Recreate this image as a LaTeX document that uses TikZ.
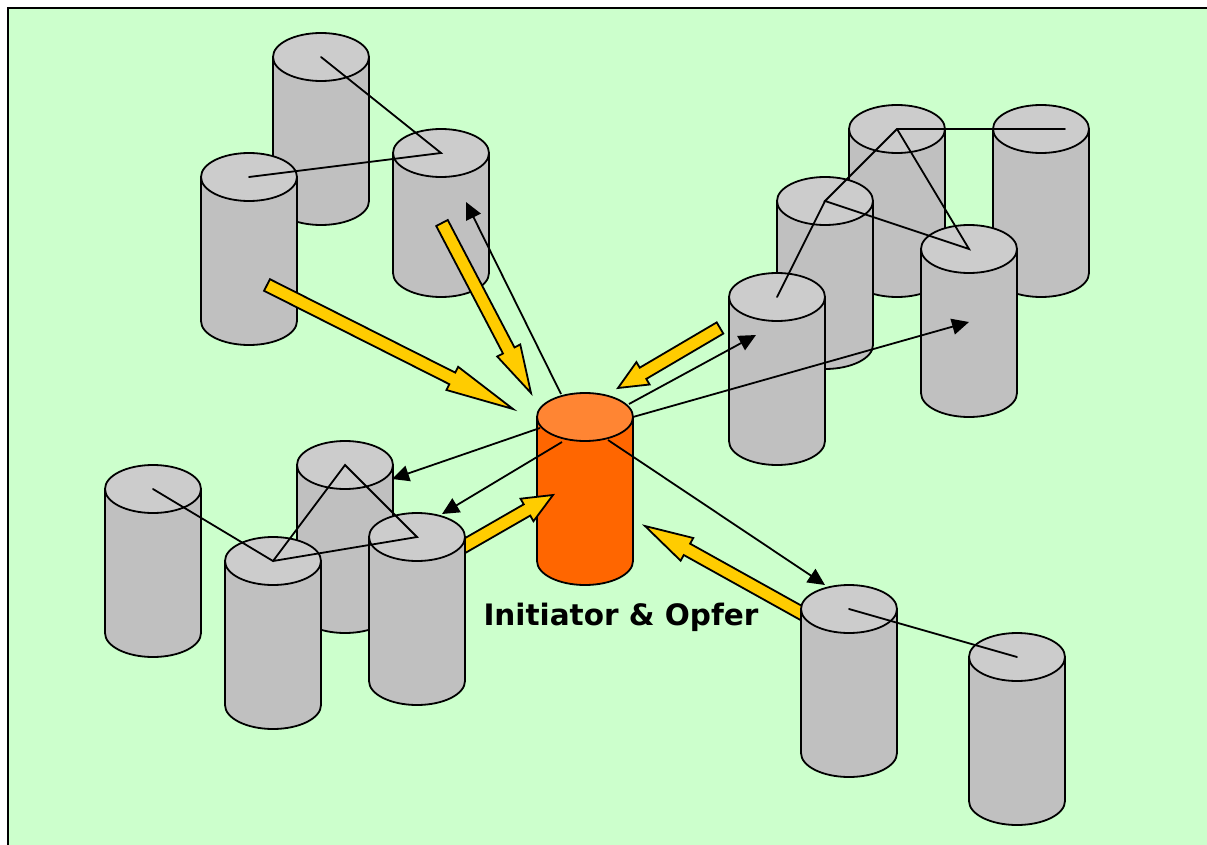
\documentclass[tikz,border=0pt]{standalone}
\usepackage{fontspec}
\setmainfont{DejaVu Sans}
\usepackage{tikz}
\usetikzlibrary{arrows.meta}
\usetikzlibrary{calc}
\definecolor{paneback}{HTML}{CCFFCC}
\definecolor{cylgray}{HTML}{C0C0C0}
\definecolor{topgray}{HTML}{CCCCCC}
\definecolor{cylorange}{HTML}{FF6600}
\definecolor{toporange}{HTML}{FF8533}
\definecolor{flowyellow}{HTML}{FFCC00}
\tikzset{
  cylline/.style={draw=black,line width=1.8pt},
  link/.style={black,line width=1.8pt,line cap=round},
  probe/.style={black,line width=1.8pt,-{Triangle[length=17pt,width=16pt]}},
  blockarrow/.style={draw=black,fill=flowyellow,line width=1.8pt,line join=miter}
}
% name, x, y, height, body colour, top colour
\newcommand{\gascyl}[6]{%
  \coordinate (#1) at (#2,#3);
  \path[cylline,fill=#5] (#1) ++(-48,0) -- ++(0,#4) arc[start angle=180,end angle=0,x radius=48,y radius=24] -- ++(0,-#4) -- cycle;
  \path[cylline,fill=#6] (#1) ellipse[x radius=48,y radius=24];
}
% start, tip, length of head
\newcommand{\flowarrow}[3]{%
  \coordinate (hd) at ($(#2)!#3pt!(#1)$);
  \path[blockarrow] ($(#1)!6.5pt!90:(#2)$) -- ($(hd)!6.5pt!90:(#2)$) -- ($(hd)!13pt!90:(#2)$) -- (#2)
    -- ($(hd)!13pt!-90:(#2)$) -- ($(hd)!6.5pt!-90:(#2)$) -- ($(#1)!6.5pt!-90:(#2)$) -- cycle;
}
\begin{document}
\begin{tikzpicture}[x=1pt,y=-1pt]
  \clip (0,0) rectangle (1207,845);
  \fill[white] (0,0) rectangle (1207,845);
  \draw[fill=paneback,line width=2.4pt] (8,8) rectangle (1220,860);

  % upper left group
  \gascyl{a1}{321}{57}{144}{cylgray}{topgray}
  \gascyl{a2}{441}{153}{120}{cylgray}{topgray}
  \gascyl{a3}{249}{177}{144}{cylgray}{topgray}
  \draw[link] (a1) -- (a2) -- (a3);

  % upper right group
  \gascyl{b1}{897}{129}{144}{cylgray}{topgray}
  \gascyl{b2}{1041}{129}{144}{cylgray}{topgray}
  \gascyl{b3}{825}{201}{144}{cylgray}{topgray}
  \gascyl{b4}{969}{249}{144}{cylgray}{topgray}
  \gascyl{b5}{777}{297}{144}{cylgray}{topgray}
  \coordinate (b2end) at (1065,129);
  \draw[link] (b2end) -- (b1) -- (b3) -- (b4) -- (b1);
  \draw[link] (b3) -- (b5);

  % the middle one
  \gascyl{opfer}{585}{417}{144}{cylorange}{toporange}

  % lower left group
  \coordinate (c4start) at (440,560);
  \coordinate (c4tip) at (553,495);
  \flowarrow{c4start}{c4tip}{30}
  \gascyl{c1}{345}{465}{144}{cylgray}{topgray}
  \gascyl{c2}{153}{489}{144}{cylgray}{topgray}
  \gascyl{c3}{273}{561}{144}{cylgray}{topgray}
  \gascyl{c4}{417}{537}{144}{cylgray}{topgray}
  \draw[link] (c2) -- (c3) -- (c1) -- (c4) -- (c3);

  % lower right group
  \coordinate (d1start) at (830,629);
  \coordinate (d1tip) at (645,526);
  \flowarrow{d1start}{d1tip}{48}
  \gascyl{d1}{849}{609}{144}{cylgray}{topgray}
  \gascyl{d2}{1017}{657}{144}{cylgray}{topgray}
  \draw[link] (d1) -- (d2);

  % yellow arrows towards the middle
  \coordinate (a3start) at (267,285);
  \coordinate (a3tip) at (513,409);
  \flowarrow{a3start}{a3tip}{68}
  \coordinate (a2start) at (442,223);
  \coordinate (a2tip) at (531,393);
  \flowarrow{a2start}{a2tip}{48}
  \coordinate (b5start) at (720,328);
  \coordinate (b5tip) at (618,388);
  \flowarrow{b5start}{b5tip}{29}

  % thin arrows away from the middle
  \coordinate (o1) at (561,394);
  \coordinate (o2) at (629,404);
  \coordinate (o3) at (633,417);
  \coordinate (o4) at (540,428);
  \coordinate (o5) at (562,442);
  \coordinate (o6) at (608,440);
  \coordinate (t1) at (466,202);
  \coordinate (t2) at (756,335);
  \coordinate (t3) at (969,322);
  \coordinate (t4) at (392,479);
  \coordinate (t5) at (442,514);
  \coordinate (t6) at (825,585);
  \draw[probe] (o1) -- (t1);
  \draw[probe] (o2) -- (t2);
  \draw[probe] (o3) -- (t3);
  \draw[probe] (o4) -- (t4);
  \draw[probe] (o5) -- (t5);
  \draw[probe] (o6) -- (t6);

  \node[font=\bfseries\fontsize{29.5}{35}\selectfont,inner sep=0pt] (opferlabel) at (621,617) {Initiator \& Opfer};
\end{tikzpicture}
\end{document}
